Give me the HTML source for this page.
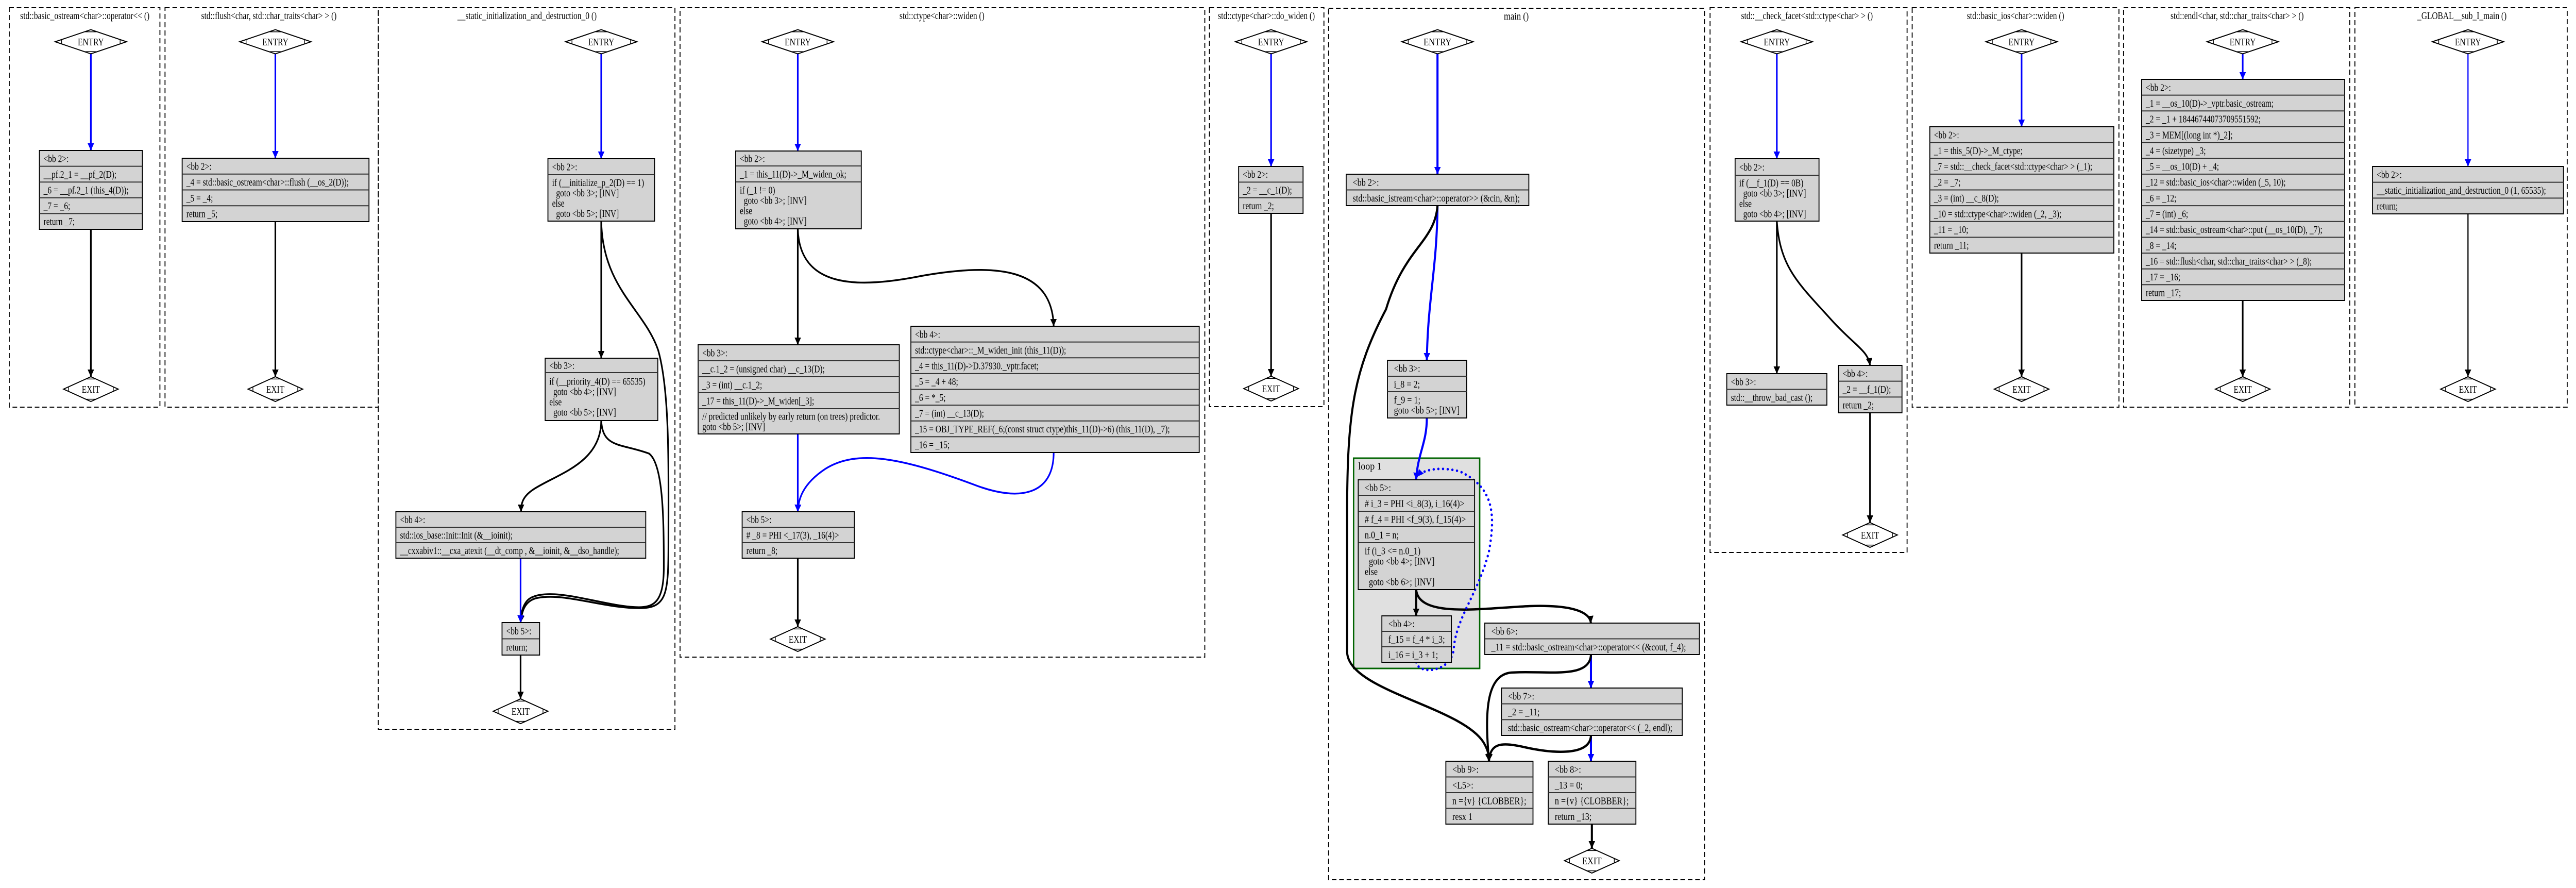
<!DOCTYPE html>
<html><head><meta charset="utf-8">
<style>
html,body{margin:0;padding:0;background:#fff;width:100%;height:100%;overflow:hidden;}
svg{display:block;width:100vw;height:100vh;}
text{font-family:"Liberation Serif",serif;font-size:20px;fill:#000;}
</style></head>
<body>
<svg id="s" xmlns="http://www.w3.org/2000/svg" viewBox="0 0 5557 1723" preserveAspectRatio="none">
<defs>
<marker id="ak" markerUnits="userSpaceOnUse" markerWidth="16" markerHeight="16" refX="14" refY="7" orient="auto"><path d="M0,0 L14,7 L0,14 z" fill="#000"/></marker>
<marker id="ab" markerUnits="userSpaceOnUse" markerWidth="16" markerHeight="16" refX="14" refY="7" orient="auto"><path d="M0,0 L14,7 L0,14 z" fill="#00f"/></marker>
</defs>
<g id="clusters"></g>
<rect x="2920" y="889" width="272" height="408" fill="#e0e0e0" stroke="#006400" stroke-width="3"/>
<text x="2930" y="911">loop 1</text>
<g id="edges"></g>
<g id="nodes"></g>
</svg>
<script>
var NS="http://www.w3.org/2000/svg";
function el(p,t,a,txt){var e=document.createElementNS(NS,t);for(var k in a)e.setAttribute(k,a[k]);if(txt!==undefined)e.textContent=txt;document.getElementById(p).appendChild(e);return e;}
function txt(p,x,y,s,sc,anchor){
 var a={x:0,y:0,transform:"translate("+x+","+y+") scale("+sc+",1)"};
 if(anchor)a["text-anchor"]=anchor;
 var t=el(p,"text",a,s);t.setAttribute("style","white-space:pre");return t;
}
function cluster(x1,y1,x2,y2,title,tx,main){
 el("clusters","rect",{x:x1,y:y1,width:x2-x1,height:y2-y1,fill:"none",stroke:"#000","stroke-width":2,"stroke-dasharray":"10,6"});
 txt("clusters",tx,y1+22,title,main?0.92:0.86,"middle");
}
function node(x1,y1,x2,y2,rows,ys,main){
 if(!ys){ys=[];var n=rows.length;for(var i=0;i<=n;i++)ys.push(y1+(y2-y1)*i/n);}
 el("nodes","rect",{x:x1,y:y1,width:x2-x1,height:y2-y1,fill:"#d3d3d3",stroke:"#000","stroke-width":2});
 for(var i=0;i<rows.length;i++){
  if(i>0)el("nodes","line",{x1:x1,y1:ys[i],x2:x2,y2:ys[i],stroke:"#333","stroke-width":2});
  var r=rows[i];if(typeof r=="string")r=[r];
  var cy=(ys[i]+ys[i+1])/2, st=cy-(r.length-1)*10;
  for(var j=0;j<r.length;j++){
   txt("nodes",x1+(main?14:9),st+j*20+7,r[j],main?0.9:0.86);
  }
 }
}
function diamond(cx,cy,w,h,label,main){
 var hw=w/2,hh=h/2;
 el("nodes","polygon",{points:(cx-hw)+","+cy+" "+cx+","+(cy-hh)+" "+(cx+hw)+","+cy+" "+cx+","+(cy+hh),fill:"#fff",stroke:"#000","stroke-width":2});
 var dx=w*0.09,dy=h*0.09;
 var segs=[[cx-hw+dx,cy-dy,cx-hw+dx,cy+dy],[cx+hw-dx,cy-dy,cx+hw-dx,cy+dy],[cx-dx*0.9,cy-hh+dy,cx+dx*0.9,cy-hh+dy],[cx-dx*0.9,cy+hh-dy,cx+dx*0.9,cy+hh-dy]];
 segs.forEach(function(s){el("nodes","line",{x1:s[0],y1:s[1],x2:s[2],y2:s[3],stroke:"#000","stroke-width":1.5});});
 txt("nodes",cx,cy+7,label,main?0.92:0.86,"middle");
}
function edge(d,blue,w,dot){
 var a={d:d,fill:"none",stroke:blue?"#00f":"#000","stroke-width":w||3.5,"marker-end":blue?"url(#ab)":"url(#ak)"};
 if(dot){a["stroke-dasharray"]="0.1,10";a["stroke-linecap"]="round";}
 el("edges","path",a);
}
function ent(cx,main){diamond(cx,81,154,47,"ENTRY",main);}
function ext(cx,cy,main){diamond(cx,cy||755,118,48,"EXIT",main);}

cluster(20,15,345,790,"std::basic_ostream<char>::operator<< ()",183);
ent(196);ext(196);
node(85,292,307,445,["<bb 2>:","__pf.2_1 = __pf_2(D);","_6 = __pf.2_1 (this_4(D));","_7 = _6;","return _7;"]);
edge("M196,104 L196,292",1);edge("M196,445 L196,731");

cluster(356,15,816,790,"std::flush<char, std::char_traits<char> > ()",580);
ent(594);ext(594);
node(393,307,796,430,["<bb 2>:","_4 = std::basic_ostream<char>::flush (__os_2(D));","_5 = _4;","return _5;"]);
edge("M594,104 L594,307",1);edge("M594,430 L594,731");

cluster(816,15,1456,1415,"__static_initialization_and_destruction_0 ()",1137);
ent(1297);ext(1123,1380);
node(1182,308,1412,429,["<bb 2>:",["if (__initialize_p_2(D) == 1)","  goto <bb 3>; [INV]","else","  goto <bb 5>; [INV]"]],[308,339,429]);
node(1176,695,1419,816,["<bb 3>:",["if (__priority_4(D) == 65535)","  goto <bb 4>; [INV]","else","  goto <bb 5>; [INV]"]],[695,723,816]);
node(854,993,1393,1083,["<bb 4>:","std::ios_base::Init::Init (&__ioinit);","__cxxabiv1::__cxa_atexit (__dt_comp , &__ioinit, &__dso_handle);"]);
node(1083,1208,1164,1271,["<bb 5>:","return;"]);
edge("M1297,104 L1297,308",1);
edge("M1297,429 L1297,695");
edge("M1297,429 C1300,560 1390,600 1420,680 C1445,760 1442,900 1442,1050 C1442,1150 1440,1180 1380,1180 C1300,1180 1220,1150 1160,1160 C1130,1165 1125,1190 1123,1208");
edge("M1297,816 C1300,870 1340,860 1400,880 C1430,900 1432,1000 1432,1100 C1432,1170 1410,1180 1370,1178 C1300,1175 1200,1140 1150,1158 C1128,1165 1124,1190 1123,1208");
edge("M1297,816 C1297,900 1200,920 1150,950 C1125,965 1124,980 1124,993");
edge("M1123,1083 L1123,1208",1);
edge("M1123,1271 L1123,1356");

cluster(1467,15,2599,1275,"std::ctype<char>::widen ()",2032);
ent(1721);ext(1721,1240);
node(1587,293,1858,444,["<bb 2>:","_1 = this_11(D)->_M_widen_ok;",["if (_1 != 0)","  goto <bb 3>; [INV]","else","  goto <bb 4>; [INV]"]],[293,322,353,444]);
node(1506,669,1940,842,["<bb 3>:","__c.1_2 = (unsigned char) __c_13(D);","_3 = (int) __c.1_2;","_17 = this_11(D)->_M_widen[_3];",["// predicted unlikely by early return (on trees) predictor.","goto <bb 5>; [INV]"]],[669,700,731,762,793,842]);
node(1965,633,2587,878,["<bb 4>:","std::ctype<char>::_M_widen_init (this_11(D));","_4 = this_11(D)->D.37930._vptr.facet;","_5 = _4 + 48;","_6 = *_5;","_7 = (int) __c_13(D);","_15 = OBJ_TYPE_REF(_6;(const struct ctype)this_11(D)->6) (this_11(D), _7);","_16 = _15;"]);
node(1601,993,1843,1083,["<bb 5>:","# _8 = PHI <_17(3), _16(4)>","return _8;"]);
edge("M1721,104 L1721,293",1);
edge("M1721,444 L1721,669");
edge("M1721,444 C1725,560 1850,560 1990,535 C2150,510 2270,520 2273,633");
edge("M1721,842 L1721,993",1);
edge("M2273,878 C2273,960 2200,975 2100,940 C1950,890 1850,870 1780,910 C1730,940 1722,970 1721,993",1);
edge("M1721,1083 L1721,1216");

cluster(2609,15,2856,789,"std::ctype<char>::do_widen ()",2732);
ent(2742);ext(2742,754);
node(2672,323,2811,414,["<bb 2>:","_2 = __c_1(D);","return _2;"]);
edge("M2742,104 L2742,323",1);edge("M2742,414 L2742,730");

cluster(2866,16,3677,1707,"main ()",3271,1);
ent(3101,1);ext(3434,1670,1);
node(2904,338,3298,399,["<bb 2>:","std::basic_istream<char>::operator>> (&cin, &n);"],null,1);
node(2993,699,3164,811,["<bb 3>:","i_8 = 2;",["f_9 = 1;","goto <bb 5>; [INV]"]],[699,730,760,811],1);
node(2930,931,3181,1144,["<bb 5>:","# i_3 = PHI <i_8(3), i_16(4)>","# f_4 = PHI <f_9(3), f_15(4)>","n.0_1 = n;",["if (i_3 <= n.0_1)","  goto <bb 4>; [INV]","else","  goto <bb 6>; [INV]"]],[931,961,992,1022,1053,1144],1);
node(2981,1195,3131,1285,["<bb 4>:","f_15 = f_4 * i_3;","i_16 = i_3 + 1;"],null,1);
node(3203,1209,3666,1270,["<bb 6>:","_11 = std::basic_ostream<char>::operator<< (&cout, f_4);"],null,1);
node(3239,1335,3629,1427,["<bb 7>:","_2 = _11;","std::basic_ostream<char>::operator<< (_2, endl);"],null,1);
node(3119,1477,3307,1599,["<bb 9>:","<L5>:","n ={v} {CLOBBER};","resx 1"],null,1);
node(3340,1477,3529,1599,["<bb 8>:","_13 = 0;","n ={v} {CLOBBER};","return _13;"],null,1);
edge("M3101,103 L3101,338",1,4.5);
edge("M3101,399 C3100,520 3080,580 3078,699",1,4.5);
edge("M3101,399 C3095,470 3030,480 2990,600 C2920,720 2906,800 2906,1000 L2906,1264 C2906,1340 3150,1370 3200,1440 C3210,1455 3212,1465 3212,1477",0,4.5);
edge("M3078,811 C3078,860 3058,880 3055,931",1,4.5);
edge("M3055,1144 L3055,1195",0,4.5);
edge("M3055,1144 C3060,1200 3200,1180 3300,1176 C3400,1173 3430,1190 3432,1209",0,4.5);
edge("M3055,1285 C3060,1310 3130,1305 3136,1260 C3140,1200 3190,1150 3212,1070 C3228,990 3218,945 3150,915 C3110,905 3070,910 3057,925",1,5,1);
edge("M3432,1270 L3432,1335",1,4.5);
edge("M3432,1270 C3430,1320 3330,1300 3260,1305 C3200,1310 3205,1400 3212,1477",0,4.5);
edge("M3432,1427 L3432,1477",1,4.5);
edge("M3432,1427 C3430,1470 3340,1460 3290,1450 C3240,1440 3215,1440 3212,1477",0,4.5);
edge("M3434,1599 L3434,1646",0,4.5);

cluster(3689,15,4114,1072,"std::__check_facet<std::ctype<char> > ()",3898);
ent(3833);ext(4034,1038);
node(3743,308,3924,429,["<bb 2>:",["if (__f_1(D) == 0B)","  goto <bb 3>; [INV]","else","  goto <bb 4>; [INV]"]],[308,340,429]);
node(3725,725,3941,786,["<bb 3>:","std::__throw_bad_cast ();"]);
node(3966,709,4103,801,["<bb 4>:","_2 = __f_1(D);","return _2;"]);
edge("M3833,104 L3833,308",1);
edge("M3833,429 L3833,725");
edge("M3833,429 C3840,520 3880,550 3950,620 C4000,670 4030,680 4034,709");
edge("M4034,801 L4034,1014");

cluster(4125,15,4571,790,"std::basic_ios<char>::widen ()",4348);
ent(4361);ext(4361);
node(4163,246,4560,491,["<bb 2>:","_1 = this_5(D)->_M_ctype;","_7 = std::__check_facet<std::ctype<char> > (_1);","_2 = _7;","_3 = (int) __c_8(D);","_10 = std::ctype<char>::widen (_2, _3);","_11 = _10;","return _11;"]);
edge("M4361,104 L4361,246",1);edge("M4361,491 L4361,731");

cluster(4581,15,5069,790,"std::endl<char, std::char_traits<char> > ()",4826);
ent(4838);ext(4838);
node(4620,154,5058,583,["<bb 2>:","_1 = __os_10(D)->_vptr.basic_ostream;","_2 = _1 + 18446744073709551592;","_3 = MEM[(long int *)_2];","_4 = (sizetype) _3;","_5 = __os_10(D) + _4;","_12 = std::basic_ios<char>::widen (_5, 10);","_6 = _12;","_7 = (int) _6;","_14 = std::basic_ostream<char>::put (__os_10(D), _7);","_8 = _14;","_16 = std::flush<char, std::char_traits<char> > (_8);","_17 = _16;","return _17;"]);
edge("M4838,104 L4838,154",1);edge("M4838,583 L4838,731");

cluster(5080,15,5538,790,"_GLOBAL__sub_I_main ()",5311);
ent(5324);ext(5324);
node(5118,323,5530,415,["<bb 2>:","__static_initialization_and_destruction_0 (1, 65535);","return;"]);
edge("M5324,104 L5324,323",1,2.5);edge("M5324,415 L5324,731",0,2.5);
</script>
</body></html>
